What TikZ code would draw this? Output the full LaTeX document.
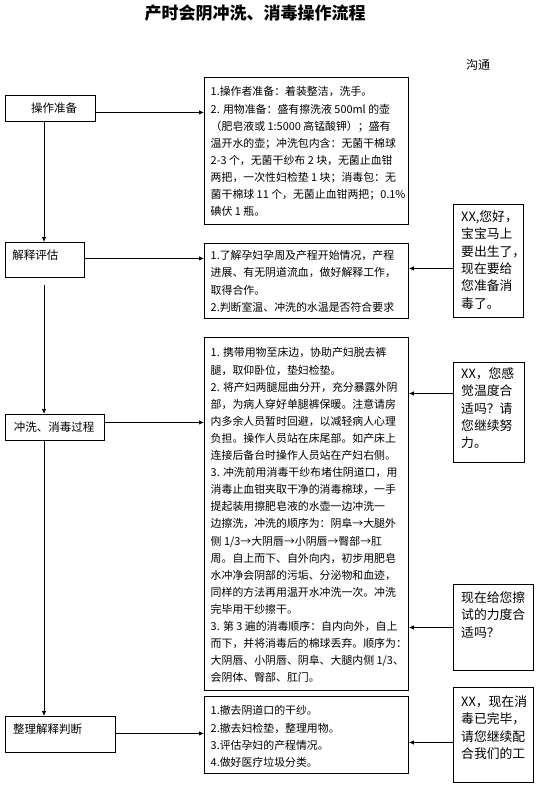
\documentclass[tikz,border=0pt]{standalone}
\usepackage{fontspec}
\newfontfamily\cjk{Noto Sans CJK SC}
\usetikzlibrary{calc, positioning}
\usetikzlibrary{arrows.meta}

\begin{document}
\begin{tikzpicture}[x=1pt,y=-1pt,
  box/.style={draw, line width=0.9pt, inner sep=0pt, anchor=north west},
  stepname/.style={font=\cjk\fontsize{11.5}{14}\selectfont},
  body/.style={anchor=north west, inner sep=0pt, align=left, font=\cjk\fontsize{10.9}{17.1}\selectfont},
  talk/.style={anchor=north west, inner sep=0pt, align=left, font=\cjk\fontsize{12.8}{17.3}\selectfont},
  arr/.style={-{Latex[length=5pt,width=4.5pt]}, line width=0.8pt}]
\useasboundingbox[fill=white] (0,0) rectangle (548,789);
\coordinate (spine) at (44,0);

\node[font=\cjk\bfseries\fontsize{17}{20}\selectfont] (title) at (255,13) {产时会阴冲洗、消毒操作流程};
\node[font=\cjk\fontsize{12}{14}\selectfont] (talkhead) at (478,65) {沟通};

% steps on the left
\node[box, minimum width=90pt, minimum height=26pt] (prep) at (5,95) {};
\node[box, minimum width=79pt, minimum height=35pt] (explain) at (5,242) {};
\node[box, minimum width=99pt, minimum height=26pt] (wash) at (5,414) {};
\node[box, minimum width=110pt, minimum height=36pt] (tidy) at (5,716) {};
\node[stepname] (prep-t) at (54,108) {操作准备};
\node[stepname] (explain-t) at (35.5,255) {解释评估};
\node[stepname] (wash-t) at (54,427) {冲洗、消毒过程};
\node[stepname] (tidy-t) at (47.5,729) {整理解释判断};

% what is done
\node[box, minimum width=204pt, minimum height=147pt] (m1) at (204,77) {};
\node[box, minimum width=204pt, minimum height=75pt] (m2) at (204,243) {};
\node[box, minimum width=204pt, minimum height=353pt] (m3) at (204,337) {};
\node[box, minimum width=204pt, minimum height=77pt] (m4) at (204,696) {};

\node[body] (m1-t) at (210.5,86.5) {1.操作者准备：着装整洁，洗手。\\
2. 用物准备：盛有擦洗液 500ml 的壶\\
（肥皂液或 1:5000 高锰酸钾）；盛有\\
温开水的壶；冲洗包内含：无菌干棉球\\
2-3 个，无菌干纱布 2 块，无菌止血钳\\
两把，一次性妇检垫 1 块；消毒包：无\\
菌干棉球 11 个，无菌止血钳两把；0.1\%\\
碘伏 1 瓶。};
\node[body] (m2-t) at (210.5,250.5) {1.了解孕妇孕周及产程开始情况，产程\\
进展、有无阴道流血，做好解释工作，\\
取得合作。\\
2.判断室温、冲洗的水温是否符合要求};
\node[body] (m3-t) at (210.5,347.5) {1. 携带用物至床边，协助产妇脱去裤\\
腿，取仰卧位，垫妇检垫。\\
2. 将产妇两腿屈曲分开，充分暴露外阴\\
部，为病人穿好单腿裤保暖。注意请房\\
内多余人员暂时回避，以减轻病人心理\\
负担。操作人员站在床尾部。如产床上\\
连接后备台时操作人员站在产妇右侧。\\
3. 冲洗前用消毒干纱布堵住阴道口，用\\
消毒止血钳夹取干净的消毒棉球，一手\\
提起装用擦肥皂液的水壶一边冲洗一\\
边擦洗，冲洗的顺序为：阴阜→大腿外\\
侧 1/3→大阴唇→小阴唇→臀部→肛\\
周。自上而下、自外向内，初步用肥皂\\
水冲净会阴部的污垢、分泌物和血迹，\\
同样的方法再用温开水冲洗一次。冲洗\\
完毕用干纱擦干。\\
3. 第 3 遍的消毒顺序：自内向外，自上\\
而下，并将消毒后的棉球丢弃。顺序为：\\
大阴唇、小阴唇、阴阜、大腿内侧 1/3、\\
会阴体、臀部、肛门。};
\node[body] (m4-t) at (210.5,705.5) {1.撤去阴道口的干纱。\\
2.撤去妇检垫，整理用物。\\
3.评估孕妇的产程情况。\\
4.做好医疗垃圾分类。};

% what is said
\node[box, minimum width=70pt, minimum height=113pt] (r1) at (453,204) {};
\node[box, minimum width=71pt, minimum height=100pt] (r2) at (453,362) {};
\node[box, minimum width=80pt, minimum height=86pt] (r3) at (453,584) {};
\node[box, minimum width=80pt, minimum height=95pt] (r4) at (453,687) {};
\node[talk] (r1-t) at (461,210.6) {XX,您好，\\宝宝马上\\要出生了，\\现在要给\\您准备消\\毒了。};
\node[talk] (r2-t) at (461,367.6) {XX，您感\\觉温度合\\适吗？请\\您继续努\\力。};
\node[talk] (r3-t) at (461,591.6) {现在给您擦\\试的力度合\\适吗？};
\node[talk] (r4-t) at (461,695.6) {XX，现在消\\毒已完毕，\\请您继续配\\合我们的工};

% flow down the left
\draw[arr] (prep.south -| spine) -- (explain.north -| spine);
\draw[arr] ($(explain.south -| spine)+(0,7)$) -- (wash.north -| spine);
\draw[arr] (wash.south -| spine) -- (tidy.north -| spine);

% steps to actions
\draw[arr] ($(prep.east)+(0,4)$) -- ($(prep.east -| m1.west)+(0,4)$);
\draw[arr] ($(explain.east)+(0,-1.5)$) -- ($(explain.east -| m2.west)+(0,-1.5)$);
\draw[arr] ($(wash.east)+(0,-5)$) -- ($(wash.east -| m3.west)+(0,-5)$);
\draw[arr] ($(tidy.east)+(0,-1)$) -- ($(tidy.east -| m4.west)+(0,-1)$);

% words to actions
\draw[arr] ($(r1.west)+(0,7.5)$) -- ($(r1.west -| m2.east)+(0,7.5)$);
\draw[arr] ($(r2.west)+(0,-19)$) -- ($(r2.west -| m3.east)+(0,-19)$);
\draw[arr] (r3.west) -- (r3.west -| m3.east);
\draw[arr] ($(r4.west)+(0,7.5)$) -- ($(r4.west -| m4.east)+(0,7.5)$);
\end{tikzpicture}
\end{document}
